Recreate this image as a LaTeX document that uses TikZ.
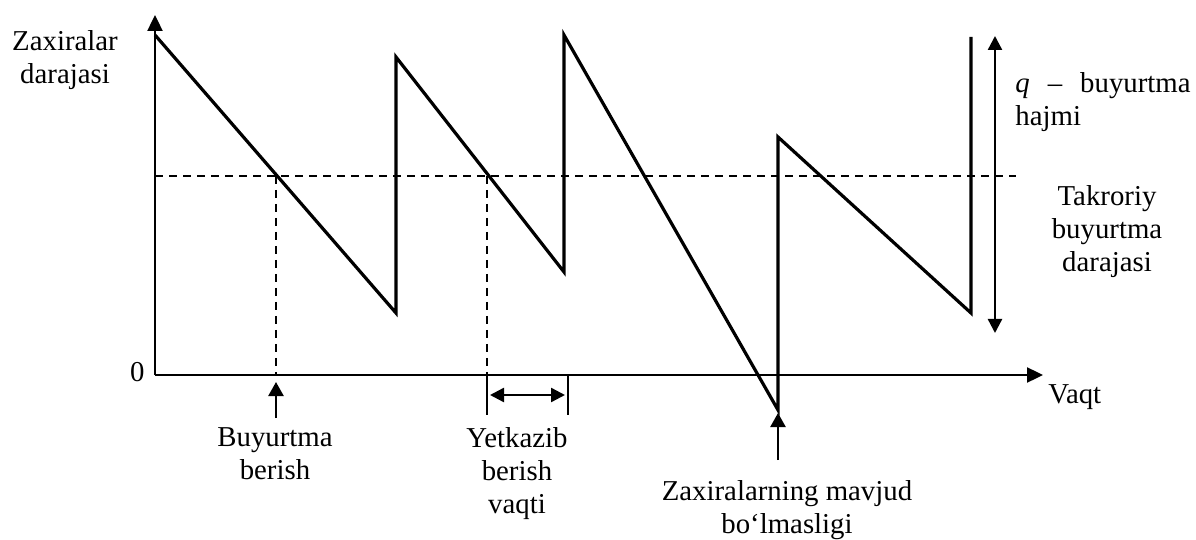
\documentclass[tikz,border=0pt]{standalone}
\usepackage{fontspec}
\setmainfont{Liberation Serif}
\usetikzlibrary{arrows.meta,positioning,calc}

\tikzset{
  axisline/.style={line width=1.2pt,-{Triangle[length=8pt,width=7.5pt]}},
  stockline/.style={line width=1.6pt,line join=miter},
  levelline/.style={line width=0.7pt,dash pattern=on 4pt off 3pt},
  pointer/.style={line width=1.2pt,-{Triangle[length=7pt,width=7.5pt]}},
  spanarrow/.style={line width=1.2pt,{Triangle[length=7pt,width=7pt]}-{Triangle[length=7pt,width=7pt]}},
  tickline/.style={line width=0.8pt},
  lbl/.style={font=\fontsize{14.4}{16.5}\selectfont,align=center,inner sep=0pt}
}

\begin{document}
\begin{tikzpicture}[x=0.5pt,y=-0.5pt]
\useasboundingbox (0,0) rectangle (1196,540);

% axes
\coordinate (origin) at (155,375);
\coordinate (ytop) at (155,15);
\coordinate (xend) at (1043,375);
\draw[axisline] (origin) -- (ytop);
\draw[axisline] (origin) -- (xend);

% stock level
\coordinate (p0) at (155,35);
\coordinate (p1) at (396,313);
\coordinate (p2) at (396,57);
\coordinate (p3) at (564,272);
\coordinate (p4) at (564,35);
\coordinate (p5) at (778,410);
\coordinate (p6) at (778,137);
\coordinate (p7) at (971,313);
\coordinate (p8) at (971,37);
\draw[stockline] (p0) -- (p1) -- (p2) -- (p3) -- (p4) -- (p5) -- (p6) -- (p7) -- (p8);

% reorder level
\coordinate (rl0) at (155,176);
\coordinate (rl1) at (1016,176);
\draw[levelline] (rl0) -- (rl1);
\coordinate (ord) at (276,176);
\coordinate (lead) at (487,176);
\draw[levelline] (ord) -- (ord |- origin);
\draw[levelline] (lead) -- (lead |- origin);

% lead time
\coordinate (lt0) at (487,375);
\coordinate (lt1) at (568,375);
\draw[tickline] (lt0) -- ++(0,40);
\draw[tickline] (lt1) -- ++(0,40);
\draw[spanarrow] ($(lt0)+(3,20)$) -- ($(lt1)+(-3,20)$);

% order quantity
\coordinate (qtop) at (995,36);
\coordinate (qbot) at (995,333);
\draw[spanarrow] (qtop) -- (qbot);

% labels
\node[lbl,anchor=north] (ylabel) at (65,30) {Zaxiralar\\darajasi};
\node[lbl,anchor=east] (zero) at (145,372) {0};
\node[lbl,anchor=west] (xlabel) at (1048,397) {Vaqt};
\node[lbl,anchor=north] (buy) at (275,427) {Buyurtma\\berish};
\node[lbl,anchor=north] (deliv) at (517,427) {Yetkazib\\berish\\vaqti};
\node[lbl,anchor=north] (short) at (787,480) {Zaxiralarning mavjud\\bo‘lmasligi};
\node[lbl,anchor=north west,align=left] (qsize) at (1015,72) {\textit{q}\hspace{9pt}–\hspace{9pt}buyurtma\\hajmi};
\node[lbl,anchor=north] (reord) at (1107,185) {Takroriy\\buyurtma\\darajasi};

% pointers
\coordinate (buytip) at (276,382);
\coordinate (shorttip) at (778,413);
\draw[pointer] (buytip |- buy.north) ++(0,-9) -- (buytip);
\draw[pointer] (shorttip |- short.north) ++(0,-20) -- (shorttip);
\end{tikzpicture}
\end{document}
